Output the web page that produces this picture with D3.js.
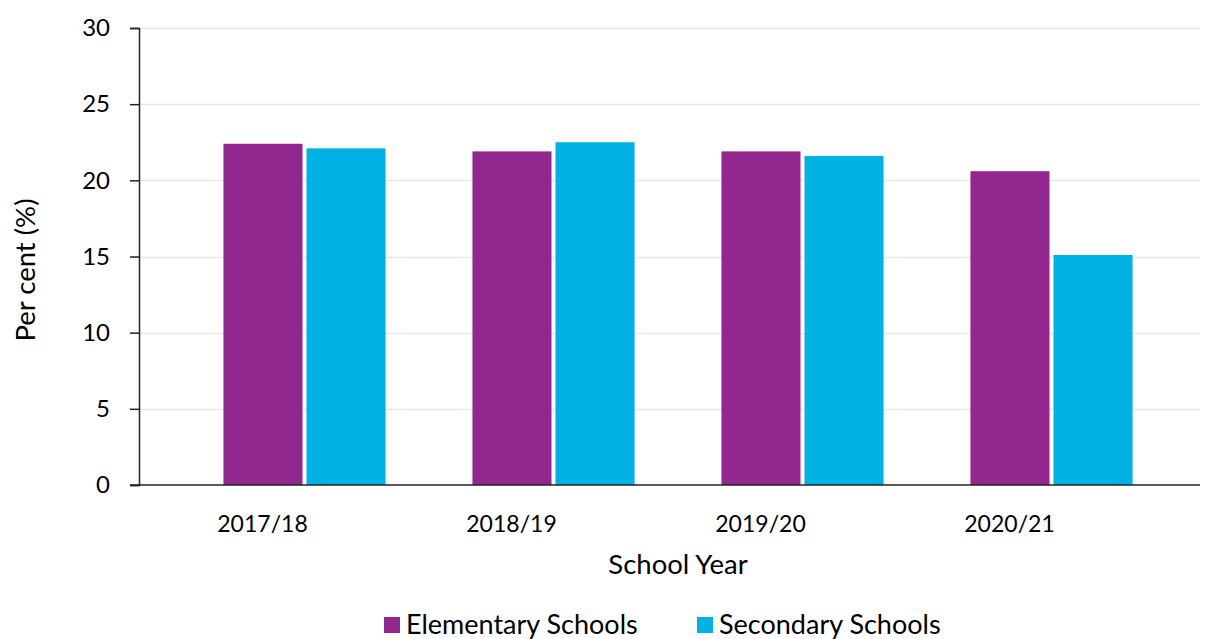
<!DOCTYPE html>
<html>
<head>
<meta charset="utf-8">
<script src="https://cdn.jsdelivr.net/npm/d3@7"></script>
<style>
  html, body { margin: 0; padding: 0; background: #fff; }
  svg { display: block; }
  text { font-family: Lato, "Open Sans", sans-serif; fill: #000; }
</style>
</head>
<body>
<svg id="chart" width="1208" height="639"></svg>
<script>
// School years on the horizontal axis
const years = ["2017/18", "2018/19", "2019/20", "2020/21"];
// Series names and colours
const seriesNames = ["Elementary Schools", "Secondary Schools"];
const seriesColors = ["#92278f", "#00b2e3"];
// Values in per cent
const elementary = [22.4, 21.9, 21.9, 20.6];
const secondary = [22.1, 22.5, 21.6, 15.1];
// Y axis ticks
const yTicks = [0, 5, 10, 15, 20, 25, 30];

const svg = d3.select("#chart");
const plot = { left: 139, right: 1200, top: 28, bottom: 485 };

const y = d3.scaleLinear().domain([0, 30]).range([plot.bottom, plot.top]);
const x0 = d3.scaleBand().domain(years).range([180, 1176])
  .paddingInner(0.349).paddingOuter(0.1745);
const x1 = d3.scaleBand().domain(seriesNames).range([0, x0.bandwidth()])
  .paddingInner(4 / 83);

// Gridlines
svg.append("g")
  .selectAll("line")
  .data(yTicks.filter(d => d > 0))
  .join("line")
  .attr("x1", plot.left).attr("x2", plot.right)
  .attr("y1", d => Math.round(y(d)) + 0.5).attr("y2", d => Math.round(y(d)) + 0.5)
  .attr("stroke", "#e6e6e6").attr("stroke-width", 1.5);

// Bars
const rows = years.map((yr, i) => ({ year: yr, values: [elementary[i], secondary[i]] }));
svg.append("g")
  .selectAll("g")
  .data(rows)
  .join("g")
  .attr("transform", d => `translate(${x0(d.year)},0)`)
  .selectAll("rect")
  .data(d => d.values.map((v, j) => ({ name: seriesNames[j], value: v, color: seriesColors[j] })))
  .join("rect")
  .attr("x", d => x1(d.name))
  .attr("width", x1.bandwidth())
  .attr("y", d => y(d.value))
  .attr("height", d => y(0) - y(d.value))
  .attr("fill", d => d.color);

// Y axis
const yAxis = d3.axisLeft(y).tickValues(yTicks).tickSize(9).tickPadding(20);
const gy = svg.append("g").attr("transform", `translate(${plot.left},0)`).call(yAxis);
gy.select(".domain").attr("stroke", "#222").attr("stroke-width", 1.5);
gy.selectAll(".tick line").attr("stroke", "#222").attr("stroke-width", 1.5);
gy.selectAll(".tick text").style("font-size", "24px").attr("fill", "#000");

// X axis baseline
svg.append("line")
  .attr("x1", plot.left - 9).attr("x2", plot.right)
  .attr("y1", y(0)).attr("y2", y(0))
  .attr("stroke", "#222").attr("stroke-width", 1.5);

// X tick labels
svg.append("g")
  .selectAll("text")
  .data(years)
  .join("text")
  .attr("x", d => x0(d) + x0.bandwidth() / 2 - 42)
  .attr("y", 532)
  .attr("text-anchor", "middle")
  .style("font-size", "23px")
  .text(d => d);

// Axis titles
svg.append("text")
  .attr("x", 678).attr("y", 574)
  .attr("text-anchor", "middle")
  .style("font-size", "27.5px")
  .text("School Year");

svg.append("text")
  .attr("transform", "translate(35,270) rotate(-90)")
  .attr("text-anchor", "middle")
  .style("font-size", "27.5px")
  .text("Per cent (%)");

// Legend
const legendX = [384, 697];
const legend = svg.append("g")
  .selectAll("g")
  .data(seriesNames)
  .join("g")
  .attr("transform", (d, i) => `translate(${legendX[i]},617)`);
legend.append("rect")
  .attr("width", 16).attr("height", 16)
  .attr("fill", (d, i) => seriesColors[i]);
legend.append("text")
  .attr("x", 22).attr("y", 17)
  .style("font-size", "27px")
  .text(d => d);
</script>
</body>
</html>
